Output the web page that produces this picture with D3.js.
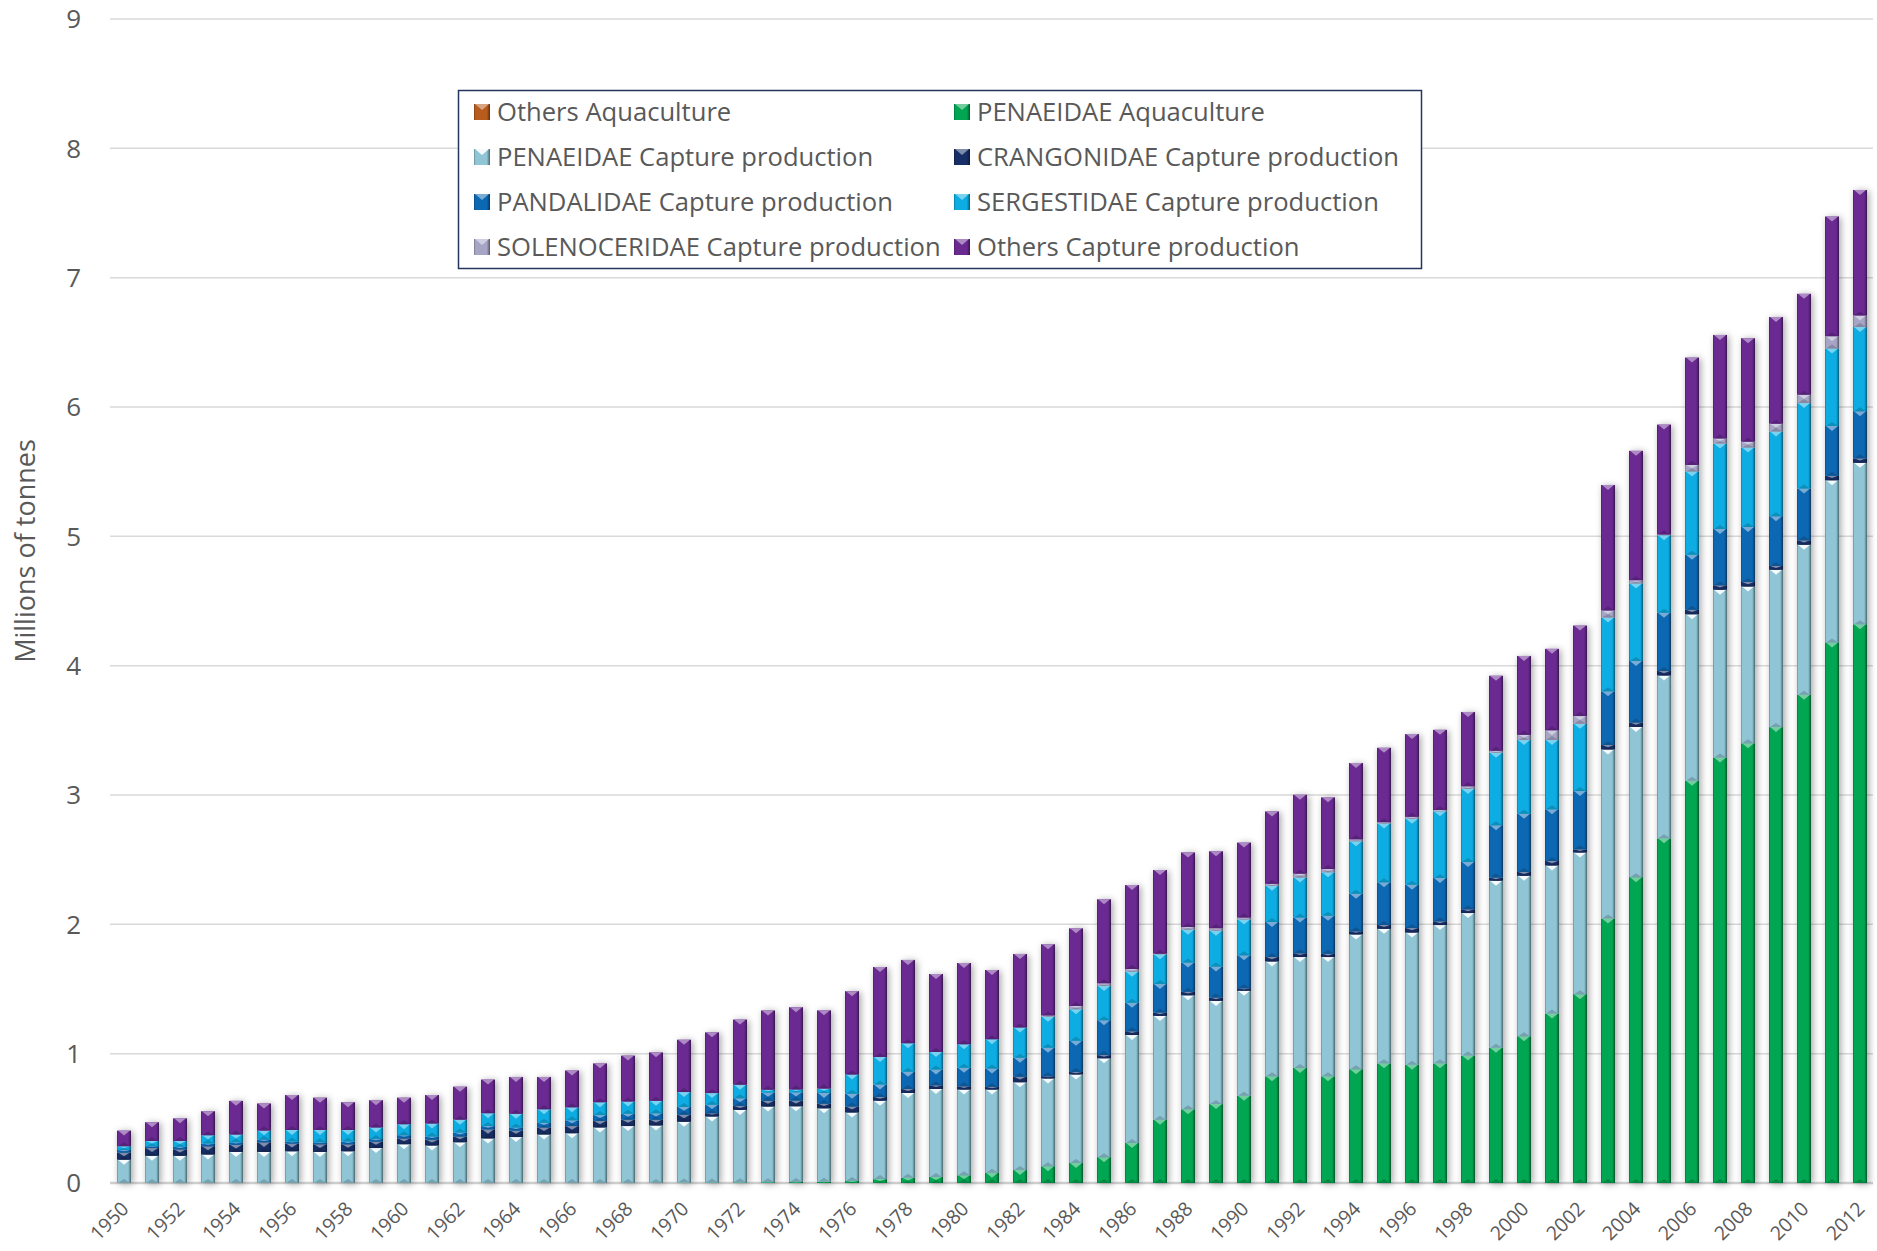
<!DOCTYPE html>
<html lang="en">

<head>
    <meta charset="UTF-8">
    <title>Shrimp production by family, 1950-2012</title>
    <style>
        * {
            margin: 0;
            padding: 0;
        }

        html,
        body {
            overflow: hidden;
            background: #fff;
        }
    </style>
</head>

<body>
    <div id="chart"></div>
    <script src="https://cdn.jsdelivr.net/npm/d3@7"></script>
    <script>
        // data, millions of tonnes, 1950 - 2012
        const years = d3.range(1950, 2013)

        const othersAqua = [
            0, 0, 0, 0, 0, 0, 0, 0, 0, 0,
            0, 0, 0, 0, 0, 0, 0, 0, 0, 0,
            0, 0, 0, 0, 0, 0, 0, 0, 0, 0,
            0, 0, 0, 0, 0, 0, 0, 0, 0, 0,
            0, 0, 0, 0, 0, 0, 0, 0, 0, 0,
            0, 0, 0, 0, 0, 0, 0, 0, 0, 0,
            0, 0, 0]
        const penAqua = [
            0, 0, 0, 0, 0, 0, 0, 0, 0, 0,
            0, 0, 0, 0, 0, 0, 0, 0, 0, 0,
            0.003, 0.004, 0.005, 0.006, 0.008, 0.01, 0.015, 0.03, 0.04, 0.047,
            0.06, 0.08, 0.10, 0.13, 0.155, 0.20, 0.31, 0.49, 0.57, 0.61,
            0.675, 0.825, 0.89, 0.825, 0.88, 0.925, 0.915, 0.925, 0.985, 1.045,
            1.135, 1.31, 1.46, 2.045, 2.365, 2.665, 3.11, 3.29, 3.40, 3.525,
            3.775, 4.18, 4.32]
        const penCapture = [
            0.18, 0.21, 0.21, 0.22, 0.24, 0.24, 0.245, 0.24, 0.245, 0.27,
            0.30, 0.29, 0.315, 0.345, 0.355, 0.375, 0.385, 0.43, 0.44, 0.445,
            0.47, 0.51, 0.56, 0.585, 0.585, 0.567, 0.53, 0.606, 0.656, 0.68,
            0.662, 0.642, 0.679, 0.678, 0.684, 0.764, 0.834, 0.802, 0.881, 0.798,
            0.811, 0.888, 0.857, 0.922, 1.042, 1.04, 1.021, 1.069, 1.102, 1.292,
            1.24, 1.145, 1.095, 1.307, 1.161, 1.259, 1.287, 1.297, 1.212, 1.216,
            1.16, 1.253, 1.248]
        const crangon = [
            0.055, 0.06, 0.05, 0.065, 0.055, 0.075, 0.06, 0.06, 0.055, 0.05,
            0.045, 0.045, 0.045, 0.07, 0.05, 0.055, 0.055, 0.05, 0.05, 0.045,
            0.055, 0.026, 0.031, 0.044, 0.044, 0.036, 0.047, 0.029, 0.031, 0.029,
            0.026, 0.021, 0.042, 0.018, 0.02, 0.025, 0.03, 0.026, 0.027, 0.026,
            0.02, 0.035, 0.03, 0.025, 0.025, 0.03, 0.035, 0.03, 0.03, 0.025,
            0.03, 0.035, 0.025, 0.035, 0.035, 0.035, 0.035, 0.035, 0.035, 0.03,
            0.035, 0.035, 0.035]
        const pandal = [
            0.02, 0.015, 0.02, 0.02, 0.02, 0.02, 0.015, 0.015, 0.02, 0.02,
            0.025, 0.025, 0.03, 0.025, 0.025, 0.035, 0.045, 0.045, 0.045, 0.05,
            0.06, 0.065, 0.06, 0.064, 0.064, 0.083, 0.099, 0.096, 0.133, 0.122,
            0.143, 0.143, 0.148, 0.22, 0.24, 0.27, 0.22, 0.22, 0.226, 0.24,
            0.255, 0.27, 0.275, 0.295, 0.29, 0.33, 0.335, 0.335, 0.365, 0.405,
            0.45, 0.40, 0.45, 0.415, 0.475, 0.45, 0.425, 0.435, 0.425, 0.385,
            0.40, 0.385, 0.365]
        const sergest = [
            0.03, 0.04, 0.045, 0.065, 0.06, 0.07, 0.09, 0.095, 0.09, 0.09,
            0.085, 0.10, 0.10, 0.10, 0.105, 0.105, 0.10, 0.10, 0.095, 0.095,
            0.115, 0.09, 0.104, 0.022, 0.022, 0.034, 0.148, 0.213, 0.221, 0.135,
            0.182, 0.226, 0.234, 0.24, 0.245, 0.265, 0.24, 0.23, 0.255, 0.276,
            0.276, 0.28, 0.31, 0.335, 0.405, 0.455, 0.51, 0.515, 0.565, 0.56,
            0.57, 0.535, 0.52, 0.57, 0.60, 0.60, 0.645, 0.66, 0.615, 0.655,
            0.66, 0.60, 0.65]
        const solenoc = [
            0, 0, 0, 0, 0, 0, 0, 0, 0, 0,
            0, 0, 0, 0, 0, 0, 0, 0, 0, 0,
            0, 0, 0, 0, 0, 0, 0, 0, 0, 0,
            0, 0, 0, 0.01, 0.025, 0.02, 0.02, 0.005, 0.02, 0.02,
            0.015, 0.015, 0.03, 0.025, 0.015, 0.01, 0.015, 0.01, 0.02, 0.015,
            0.04, 0.075, 0.06, 0.055, 0.025, 0.005, 0.05, 0.04, 0.045, 0.06,
            0.065, 0.095, 0.09]
        const othersCapture = [
            0.12, 0.145, 0.175, 0.185, 0.26, 0.21, 0.27, 0.25, 0.215, 0.21,
            0.205, 0.22, 0.255, 0.26, 0.285, 0.25, 0.285, 0.30, 0.355, 0.375,
            0.405, 0.47, 0.504, 0.613, 0.636, 0.605, 0.644, 0.696, 0.644, 0.603,
            0.628, 0.535, 0.568, 0.55, 0.60, 0.65, 0.65, 0.647, 0.577, 0.595,
            0.58, 0.56, 0.61, 0.555, 0.59, 0.575, 0.64, 0.62, 0.575, 0.58,
            0.61, 0.63, 0.70, 0.97, 1.00, 0.85, 0.83, 0.80, 0.80, 0.825,
            0.78, 0.925, 0.97]

        const seriesNames = [
            'Others Aquaculture', 'PENAEIDAE Aquaculture',
            'PENAEIDAE Capture production', 'CRANGONIDAE Capture production',
            'PANDALIDAE Capture production', 'SERGESTIDAE Capture production',
            'SOLENOCERIDAE Capture production', 'Others Capture production'
        ]
        const seriesValues = [othersAqua, penAqua, penCapture, crangon, pandal, sergest, solenoc, othersCapture]
        const colors = ['#b85c1e', '#00a651', '#8fc5d5', '#172f66', '#0b68b3', '#0badE3', '#a6a5c6', '#6a2a92']
        const yTicks = [0, 1, 2, 3, 4, 5, 6, 7, 8, 9]

        function drawChart() {
            const width = 1877
            const height = 1251
            const svg = d3.select('#chart')
                .append('svg')
                .attr('width', width)
                .attr('height', height)
                .style('font-family', '"Open Sans", "Noto Sans", sans-serif')

            const table = years.map((yr, i) => {
                const row = { year: yr }
                seriesNames.forEach((s, k) => row[s] = seriesValues[k][i])
                return row
            })
            const stacked = d3.stack().keys(seriesNames)(table)

            const x = d3.scaleBand()
                .domain(years)
                .range([110, 1874])
                .paddingInner(0.5)
                .paddingOuter(0.25)
            const y = d3.scaleLinear()
                .domain([0, 9])
                .range([1183, 19])

            const defs = svg.append('defs')
            defs.append('filter')
                .attr('id', 'shadow')
                .attr('x', '-60%').attr('y', '-5%')
                .attr('width', '220%').attr('height', '110%')
                .append('feDropShadow')
                .attr('dx', 2).attr('dy', 1)
                .attr('stdDeviation', 3.5)
                .attr('flood-color', '#000')
                .attr('flood-opacity', 0.35)

            // side shading of each series, like the bevelled bars
            colors.forEach((c, k) => {
                const g = defs.append('linearGradient')
                    .attr('id', 'grad' + k)
                    .attr('x1', 0).attr('x2', 1).attr('y1', 0).attr('y2', 0)
                const stops = [
                    [0, d3.color(c).darker(0.9)],
                    [0.1, d3.color(c)],
                    [0.8, d3.color(c)],
                    [0.88, d3.color(c).darker(0.6)],
                    [1, d3.color(c).darker(1.8)]
                ]
                stops.forEach(s => g.append('stop').attr('offset', s[0]).attr('stop-color', s[1]))
            })

            // gridlines
            svg.append('g')
                .selectAll('line')
                .data(yTicks)
                .join('line')
                .attr('x1', 110)
                .attr('x2', 1873)
                .attr('y1', d => y(d))
                .attr('y2', d => y(d))
                .attr('stroke', d => d === 0 ? '#cfcfcf' : '#d9d9d9')
                .attr('stroke-width', d => d === 0 ? 2.5 : 1.5)

            // y tick labels
            svg.append('g')
                .selectAll('text')
                .data(yTicks)
                .join('text')
                .attr('x', 81)
                .attr('y', d => y(d))
                .attr('dy', '0.36em')
                .attr('text-anchor', 'end')
                .attr('font-size', 26)
                .attr('fill', '#595959')
                .text(d => d)

            svg.append('text')
                .attr('transform', 'translate(35,551) rotate(-90)')
                .attr('text-anchor', 'middle')
                .attr('font-size', 27)
                .attr('fill', '#595959')
                .text('Millions of tonnes')

            // x tick labels, every second year
            svg.append('g')
                .selectAll('text')
                .data(years.filter((d, i) => i % 2 === 0))
                .join('text')
                .attr('transform', d => `translate(${x(d) + x.bandwidth() / 2 + 6},1210) rotate(-45)`)
                .attr('text-anchor', 'end')
                .attr('font-size', 19.5)
                .attr('fill', '#595959')
                .text(d => d)

            // bars
            const bw = x.bandwidth()
            const bars = svg.append('g').attr('filter', 'url(#shadow)')
            stacked.forEach((layer, k) => {
                const c = colors[k]
                const light = d3.interpolateRgb(c, '#ffffff')(k === 2 ? 0.9 : 0.45)
                const dark = d3.color(c).darker(0.7)
                const segs = layer
                    .map(d => ({ year: d.data.year, y0: d[0], y1: d[1] }))
                    .filter(d => d.y1 - d.y0 > 0)
                const g = bars.append('g')
                g.selectAll('rect')
                    .data(segs)
                    .join('rect')
                    .attr('x', d => x(d.year))
                    .attr('width', bw)
                    .attr('y', d => y(d.y1))
                    .attr('height', d => y(d.y0) - y(d.y1))
                    .attr('fill', `url(#grad${k})`)
                // bevel at the bottom of each segment
                g.selectAll('path.bot')
                    .data(segs)
                    .join('path')
                    .attr('class', 'bot')
                    .attr('fill', dark)
                    .attr('opacity', 0.8)
                    .attr('d', d => {
                        const x0 = x(d.year), yb = y(d.y0)
                        const h = Math.min(4, (y(d.y0) - y(d.y1)) / 2)
                        return `M${x0 + 1},${yb}L${x0 + bw / 2},${yb - h}L${x0 + bw - 1},${yb}Z`
                    })
                // light triangle at the top of each segment
                g.selectAll('path.top')
                    .data(segs)
                    .join('path')
                    .attr('class', 'top')
                    .attr('fill', light)
                    .attr('d', d => {
                        const x0 = x(d.year), yt = y(d.y1)
                        const h = Math.min(5, (y(d.y0) - y(d.y1)) / 2)
                        return `M${x0 + 1},${yt}L${x0 + bw - 1},${yt}L${x0 + bw / 2},${yt + h}Z`
                    })
            })

            // legend
            const legend = svg.append('g')
            legend.append('rect')
                .attr('x', 458.5)
                .attr('y', 90.5)
                .attr('width', 963)
                .attr('height', 178)
                .attr('fill', '#fff')
                .attr('stroke', '#24365e')
                .attr('stroke-width', 1.5)

            const items = legend.selectAll('g.item')
                .data(seriesNames)
                .join('g')
                .attr('class', 'item')
                .attr('transform', (d, i) => `translate(${i % 2 === 0 ? 474 : 954},${112 + Math.floor(i / 2) * 45})`)
            items.append('rect')
                .attr('x', 0).attr('y', -8)
                .attr('width', 16).attr('height', 16)
                .attr('fill', (d, i) => `url(#grad${i})`)
            items.append('path')
                .attr('d', 'M1,-8L15,-8L8,-2Z')
                .attr('fill', (d, i) => d3.interpolateRgb(colors[i], '#ffffff')(i === 2 ? 0.9 : 0.45))
            items.append('text')
                .attr('x', 23)
                .attr('dy', '0.36em')
                .attr('font-size', 25.6)
                .attr('fill', '#595959')
                .text(d => d)
        }

        drawChart()
    </script>
</body>

</html>
